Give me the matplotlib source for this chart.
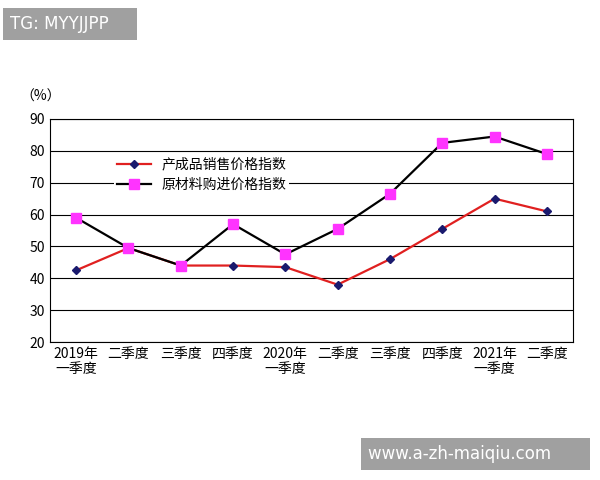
import matplotlib
matplotlib.use("Agg")
import matplotlib.pyplot as plt

plt.rcParams['font.family'] = ['Noto Sans CJK SC', 'DejaVu Sans']

categories = ["2019年\n一季度", "二季度", "三季度", "四季度", "2020年\n一季度", "二季度", "三季度", "四季度", "2021年\n一季度", "二季度"]
product_price = [42.5, 49.5, 44, 44, 43.5, 38, 46, 55.5, 65, 61]
material_price = [59, 49.5, 44, 57, 47.5, 55.5, 66.5, 82.5, 84.5, 79]
series_names = ["产成品销售价格指数", "原材料购进价格指数"]

fig = plt.figure(figsize=(6, 4.8), dpi=100)
ax = fig.add_axes([50/600, 1-342/480, 523/600, 223/480])
x = list(range(len(categories)))
ax.plot(x, product_price, color='#e02020', lw=1.6, marker='D', ms=4.5,
        mfc='#1a1a6e', mec='#1a1a6e', label=series_names[0], zorder=3)
ax.plot(x, material_price, color='black', lw=1.6, marker='s', ms=6.5,
        mfc='#ff33ff', mec='#ff33ff', label=series_names[1], zorder=3)
ax.set_xlim(-0.5, len(categories) - 0.5)
ax.set_ylim(20, 90)
ax.set_yticks(range(20, 91, 10))
ax.set_xticks(x)
ax.set_xticklabels(categories, fontsize=10, linespacing=1.1)
ax.tick_params(axis='y', labelsize=10, length=0)
ax.tick_params(axis='x', length=0)
ax.yaxis.grid(True, color='black', lw=0.8)
ax.set_axisbelow(True)
for s in ax.spines.values():
    s.set_color('black'); s.set_linewidth(0.8)
leg = ax.legend(loc='upper left', bbox_to_anchor=(0.11, 0.87), frameon=True,
                fontsize=10, handlelength=2.4, borderpad=0.2, labelspacing=0.45)
leg.get_frame().set_facecolor('white'); leg.get_frame().set_edgecolor('none')
leg.get_frame().set_alpha(1)
fig.text(20/600, 1-97/480, "（%）", fontsize=10, va='center')
fig.text(10/600, 1-24/480, "TG: MYYJJPP    ", fontsize=12, color='white', va='center',
         family='DejaVu Sans', bbox=dict(facecolor='#a0a0a0', edgecolor='none', pad=5))
fig.text(368/600, 1-454/480, "www.a-zh-maiqiu.com      ", fontsize=12, color='white', va='center',
         family='DejaVu Sans', bbox=dict(facecolor='#a0a0a0', edgecolor='none', pad=5))
fig.savefig("out.png", dpi=100)
